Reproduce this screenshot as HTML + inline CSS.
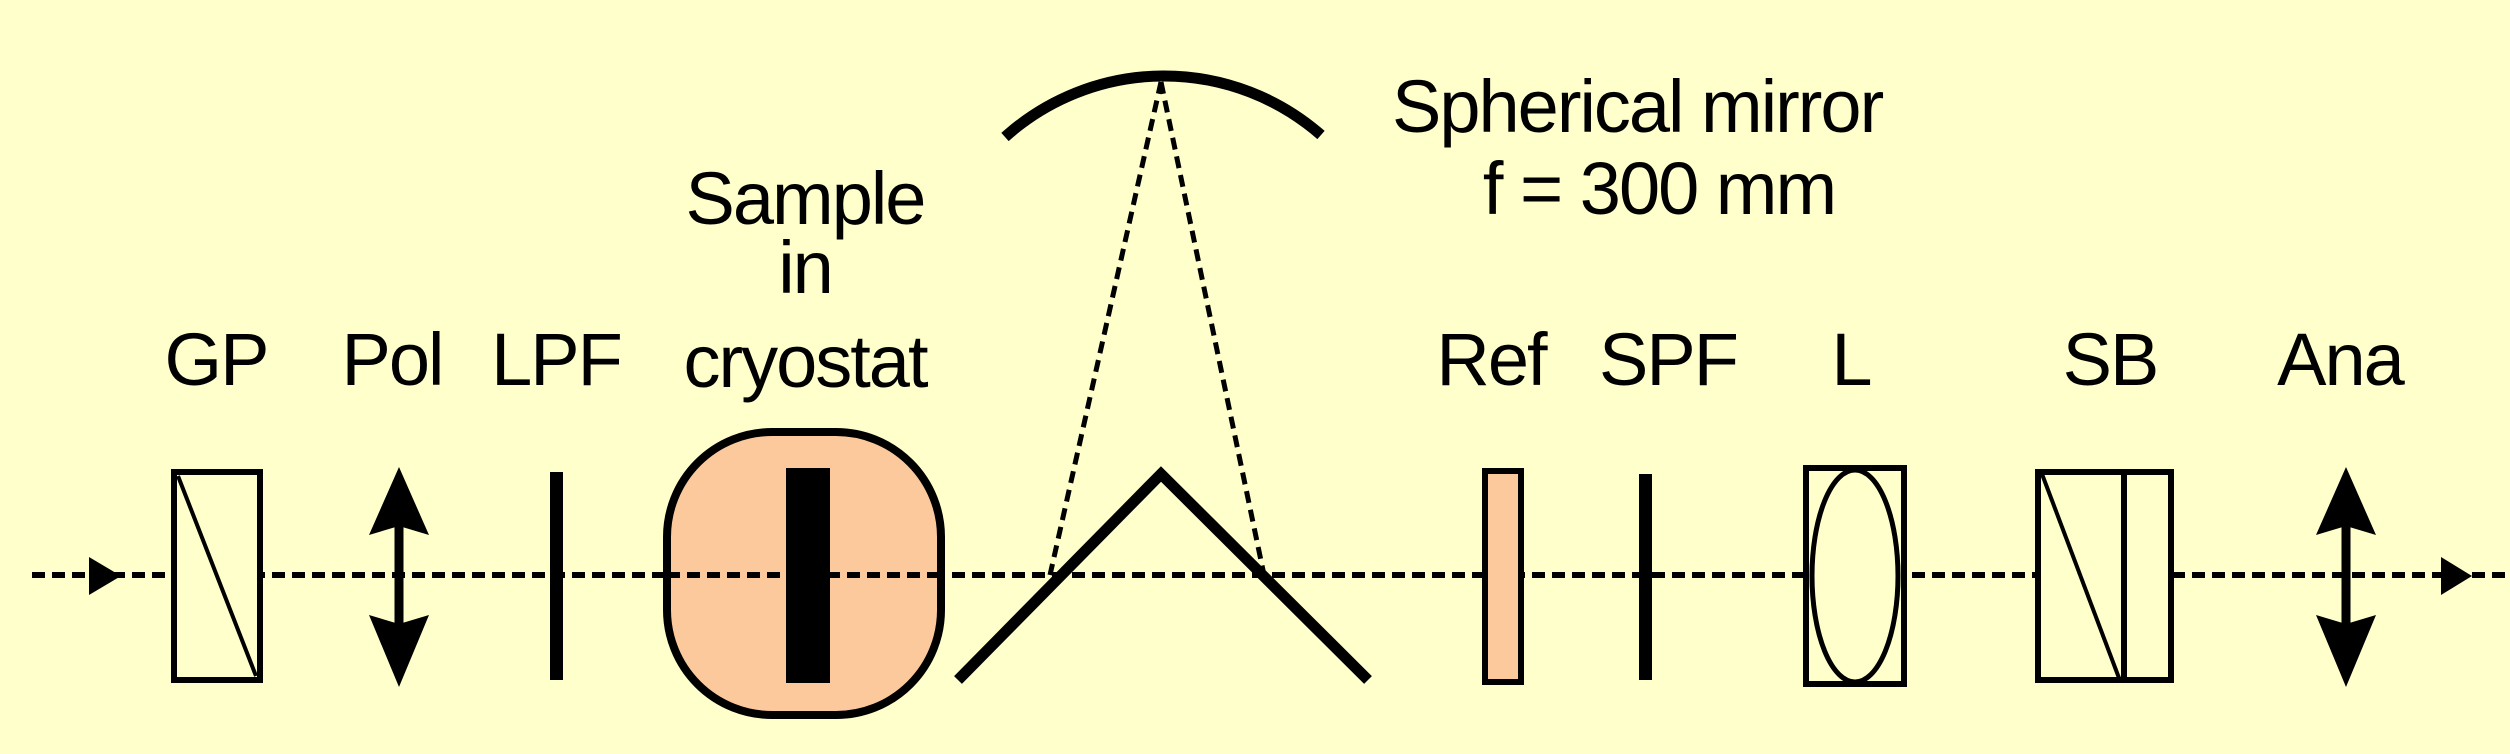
<!DOCTYPE html>
<html><head><meta charset="utf-8"><style>
html,body{margin:0;padding:0;background:#ffffcc;}
svg{display:block;}
text{font-family:"Liberation Sans",Arial,sans-serif;font-size:74px;letter-spacing:-2px;fill:#000;}
</style></head><body>
<svg width="2510" height="754" viewBox="0 0 2510 754" xmlns="http://www.w3.org/2000/svg">
<rect width="2510" height="754" fill="#ffffcc"/>
<!-- beam -->
<line x1="32" y1="575" x2="2510" y2="575" stroke="#000" stroke-width="6" stroke-dasharray="13,7"/>
<polygon points="89,557 121,576 89,595" fill="#000"/>
<polygon points="2441,557 2472,576 2441,595" fill="#000"/>
<!-- GP -->
<rect x="174" y="472" width="86" height="208" fill="#ffffcc" stroke="#000" stroke-width="6"/>
<line x1="178" y1="476" x2="256" y2="676" stroke="#000" stroke-width="4"/>
<!-- Pol -->
<line x1="399" y1="500" x2="399" y2="655" stroke="#000" stroke-width="9"/>
<polygon points="399,467 369,535 399,526 429,535" fill="#000"/>
<polygon points="399,687 369,615 399,624 429,615" fill="#000"/>
<!-- LPF -->
<rect x="550" y="472" width="13" height="208" fill="#000"/>
<!-- cryostat -->
<rect x="667" y="432" width="274" height="283" rx="105" ry="105" fill="#fcc99c" stroke="#000" stroke-width="8"/>
<line x1="667" y1="575" x2="941" y2="575" stroke="#000" stroke-width="6" stroke-dasharray="13,7"/>
<rect x="786" y="468" width="44" height="215" fill="#000"/>
<!-- spherical mirror -->
<path d="M1005,137 A238,238 0 0 1 1321,135" fill="none" stroke="#000" stroke-width="11"/>
<line x1="1161" y1="82" x2="1050" y2="575" stroke="#000" stroke-width="5" stroke-dasharray="12,7"/>
<line x1="1161" y1="82" x2="1264" y2="575" stroke="#000" stroke-width="5" stroke-dasharray="12,7"/>
<polyline points="958,680 1161,474 1368,680" fill="none" stroke="#000" stroke-width="11"/>
<!-- Ref -->
<rect x="1485" y="471" width="36" height="211" fill="#fcc99c" stroke="#000" stroke-width="6"/>
<!-- SPF -->
<rect x="1639" y="474" width="13" height="206" fill="#000"/>
<!-- L -->
<rect x="1806" y="468" width="98" height="216" fill="#ffffcc" stroke="#000" stroke-width="6"/>
<ellipse cx="1855" cy="576" rx="43" ry="106" fill="#ffffcc" stroke="#000" stroke-width="5"/>
<!-- SB -->
<rect x="2038" y="472" width="133" height="208" fill="#ffffcc" stroke="#000" stroke-width="6"/>
<line x1="2124" y1="472" x2="2124" y2="680" stroke="#000" stroke-width="6"/>
<line x1="2042" y1="474" x2="2119" y2="678" stroke="#000" stroke-width="4"/>
<!-- Ana -->
<line x1="2346" y1="500" x2="2346" y2="655" stroke="#000" stroke-width="9"/>
<polygon points="2346,467 2316,535 2346,526 2376,535" fill="#000"/>
<polygon points="2346,687 2316,615 2346,624 2376,615" fill="#000"/>
<!-- labels -->
<text x="216" y="385" text-anchor="middle">GP</text>
<text x="392" y="385" text-anchor="middle">Pol</text>
<text x="556" y="385" text-anchor="middle">LPF</text>
<text x="805" y="224" text-anchor="middle">Sample</text>
<text x="805" y="293" text-anchor="middle">in</text>
<text x="805" y="387" text-anchor="middle">cryostat</text>
<text x="1392" y="132">Spherical mirror</text>
<text x="1659" y="214" text-anchor="middle">f = 300 mm</text>
<text x="1491" y="385" text-anchor="middle">Ref</text>
<text x="1668" y="385" text-anchor="middle">SPF</text>
<text x="1851" y="385" text-anchor="middle">L</text>
<text x="2110" y="385" text-anchor="middle">SB</text>
<text x="2340" y="385" text-anchor="middle">Ana</text>
</svg>
</body></html>
